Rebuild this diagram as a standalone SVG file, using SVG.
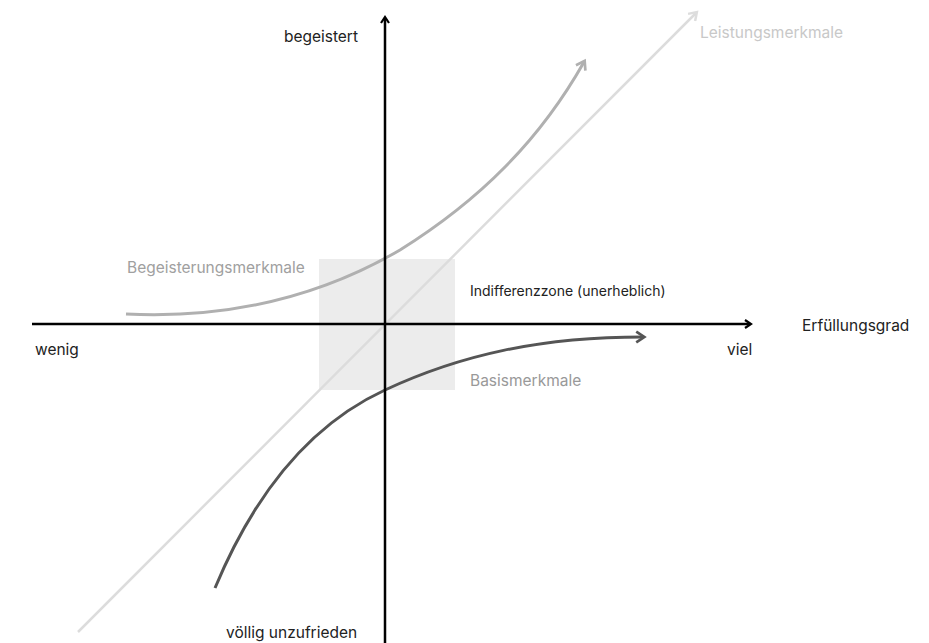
<svg xmlns="http://www.w3.org/2000/svg" width="929" height="643" viewBox="0 0 929 643">
<style>
text{font-family:Inter,"Liberation Sans",sans-serif;font-size:15.5px;fill:#222}
.axis{stroke:#000;stroke-width:2.5;fill:none}
</style>
<defs>
<marker id="ab" viewBox="0 0 10 10" refX="6" refY="5" markerWidth="4" markerHeight="4" orient="auto" markerUnits="strokeWidth"><path d="M1,1 L7,5 L1,9" fill="none" stroke="#000" stroke-width="2.2"/></marker>
<marker id="al" viewBox="0 0 10 10" refX="6" refY="5" markerWidth="5" markerHeight="5" orient="auto" markerUnits="strokeWidth"><path d="M1,1 L7,5 L1,9" fill="none" stroke="#ddd" stroke-width="2"/></marker>
<marker id="ag" viewBox="0 0 10 10" refX="6" refY="5" markerWidth="4.5" markerHeight="4.5" orient="auto" markerUnits="strokeWidth"><path d="M1,1 L7,5 L1,9" fill="none" stroke="#b0b0b0" stroke-width="2"/></marker>
<marker id="ad" viewBox="0 0 10 10" refX="6" refY="5" markerWidth="4.5" markerHeight="4.5" orient="auto" markerUnits="strokeWidth"><path d="M1,1 L7,5 L1,9" fill="none" stroke="#555" stroke-width="2"/></marker>
</defs>
<g id="zone"><rect x="319" y="259" width="136" height="131" fill="#ececec"/></g>
<g id="connectors">
<line id="leistung" x1="78" y1="632" x2="696" y2="13" stroke="#dcdcdc" stroke-width="2.5" marker-end="url(#al)"/>
<path id="begeisterung" d="M126,314 C250,320 340,285 400,250 C480,200 540,140 584,62" fill="none" stroke="#b0b0b0" stroke-width="3" marker-end="url(#ag)"/>
<path id="basis" d="M215,588 C260,480 320,420 385,390 C460,355 540,337 643,337" fill="none" stroke="#555" stroke-width="3" marker-end="url(#ad)"/>
<line id="xaxis" class="axis" x1="32" y1="324" x2="750" y2="324" marker-end="url(#ab)"/>
<line id="yaxis" class="axis" x1="385" y1="643" x2="385" y2="18" marker-end="url(#ab)"/>
</g>
<g id="labels">
<text x="358" y="42" text-anchor="end">begeistert</text>
<text x="700" y="38" style="fill:#c8c8c8">Leistungsmerkmale</text>
<text x="127" y="273" style="fill:#a0a0a0">Begeisterungsmerkmale</text>
<text x="470" y="296" style="font-size:14px">Indifferenzzone (unerheblich)</text>
<text x="802" y="331">Erfüllungsgrad</text>
<text x="35" y="355">wenig</text>
<text x="727" y="355">viel</text>
<text x="470" y="386" style="fill:#999">Basismerkmale</text>
<text x="226" y="638">völlig unzufrieden</text>
</g>
</svg>
